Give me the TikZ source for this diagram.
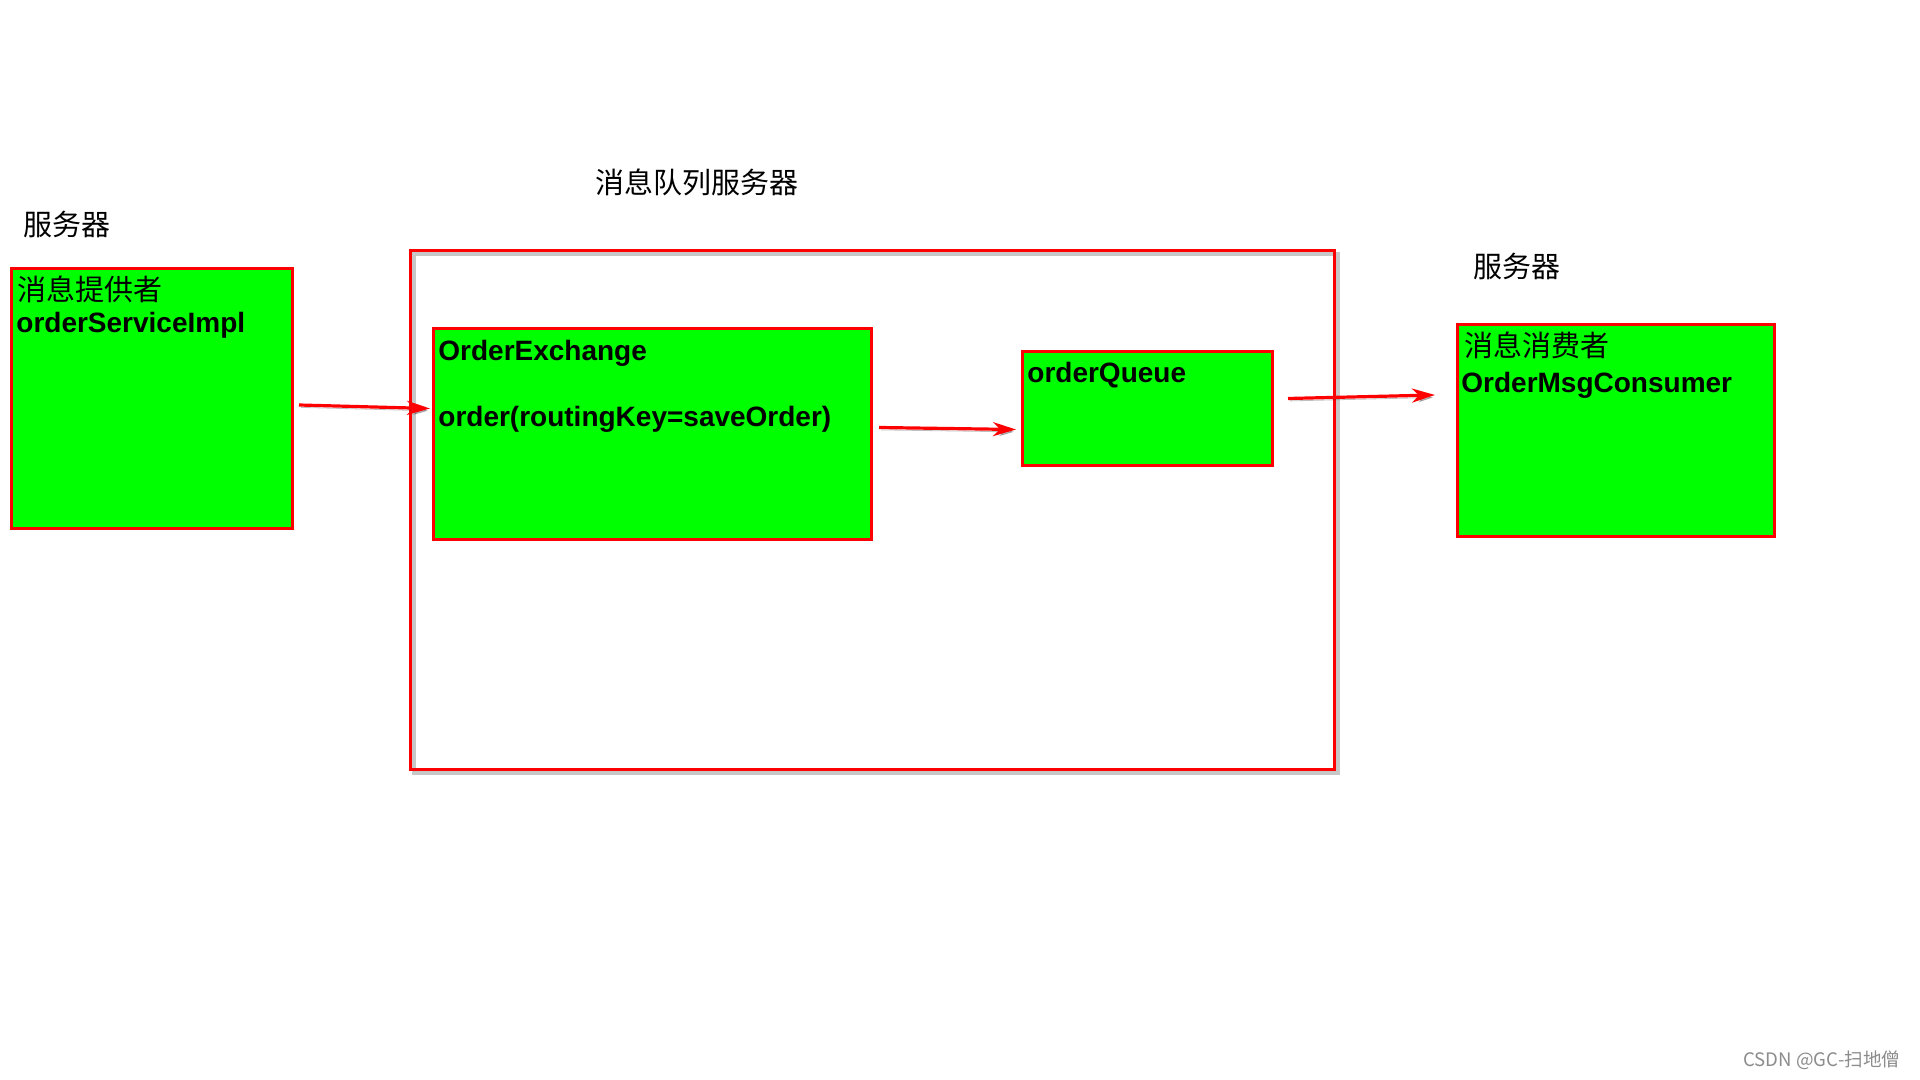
\documentclass[tikz,border=0pt]{standalone}
\usepackage{fontspec}
\setmainfont{Liberation Sans}
\newfontfamily\cjk{Noto Sans CJK SC}
\usetikzlibrary{arrows.meta,calc}
\definecolor{boxgreen}{HTML}{00FF00}
\definecolor{boxred}{HTML}{FF0000}
\begin{document}
\begin{tikzpicture}[x=0.5pt,y=-0.5pt,
  box/.style={draw=boxred, fill=boxgreen, line width=1.5pt, anchor=north west, inner sep=0pt},
  frame/.style={draw=boxred, line width=1.5pt, anchor=north west, inner sep=0pt},
  frameshadow/.style={draw=black, opacity=0.22, line width=2pt, anchor=north west, inner sep=0pt},
  cn/.style={font=\cjk\fontsize{14.5pt}{17pt}\selectfont, anchor=base west, inner sep=0pt},
  en/.style={font=\bfseries\fontsize{14pt}{17pt}\selectfont, anchor=base west, inner sep=0pt},
  arr/.style={draw=boxred, line width=1.6pt, -{Stealth[length=11.5pt,width=7pt,inset=3.5pt]},
    preaction={draw=black, opacity=0.25, transform canvas={shift={(1pt,-1.2pt)}}}}
]
\useasboundingbox (0,0) rectangle (1920,1080);
\fill[white] (0,0) rectangle (1920,1080);

% container of the message queue server
\node[frameshadow, minimum width=462pt, minimum height=259.5pt] (mqshadow) at (412,252) {};
\node[frame, minimum width=462pt, minimum height=259.5pt] (mq) at (409,249) {};

% boxes
\node[box, minimum width=140.5pt, minimum height=130pt] (prov) at (10,267) {};
\node[box, minimum width=219pt, minimum height=105.5pt] (exch) at (432,327) {};
\node[box, minimum width=125pt, minimum height=57pt] (queue) at (1021,350) {};
\node[box, minimum width=158.5pt, minimum height=106pt] (cons) at (1456,323) {};

% labels
\node[cn] (l1) at (23,236) {服务器};
\node[cn] (l2) at (595,194) {消息队列服务器};
\node[cn] (l3) at (1473,278) {服务器};
\node[cn] (p1) at (17,301) {消息提供者};
\node[en] (p2) at (16,333) {orderServiceImpl};
\node[en] (e1) at (438,360) {OrderExchange};
\node[en] (e2) at (438,426) {order(routingKey=saveOrder)};
\node[en] (q1) at (1027,382) {orderQueue};
\node[cn] (c1) at (1464,357) {消息消费者};
\node[en] (c2) at (1461,393) {OrderMsgConsumer};

% arrows
\draw[arr] ($(prov.east)+(5,6.5)$) -- ($(exch.west)+(-2,-25.5)$);
\draw[arr] ($(exch.east)+(6,-6.5)$) -- ($(queue.west)+(-5,21)$);
\draw[arr] ($(queue.east)+(14,-10)$) -- ($(cons.west)+(-21,-35.5)$);

% watermark
\node[font=\cjk\fontsize{9.3pt}{11pt}\selectfont, text=black!45, anchor=base west, inner sep=0pt] (wm) at (1743,1066) {CSDN @GC-扫地僧};
\end{tikzpicture}
\end{document}
